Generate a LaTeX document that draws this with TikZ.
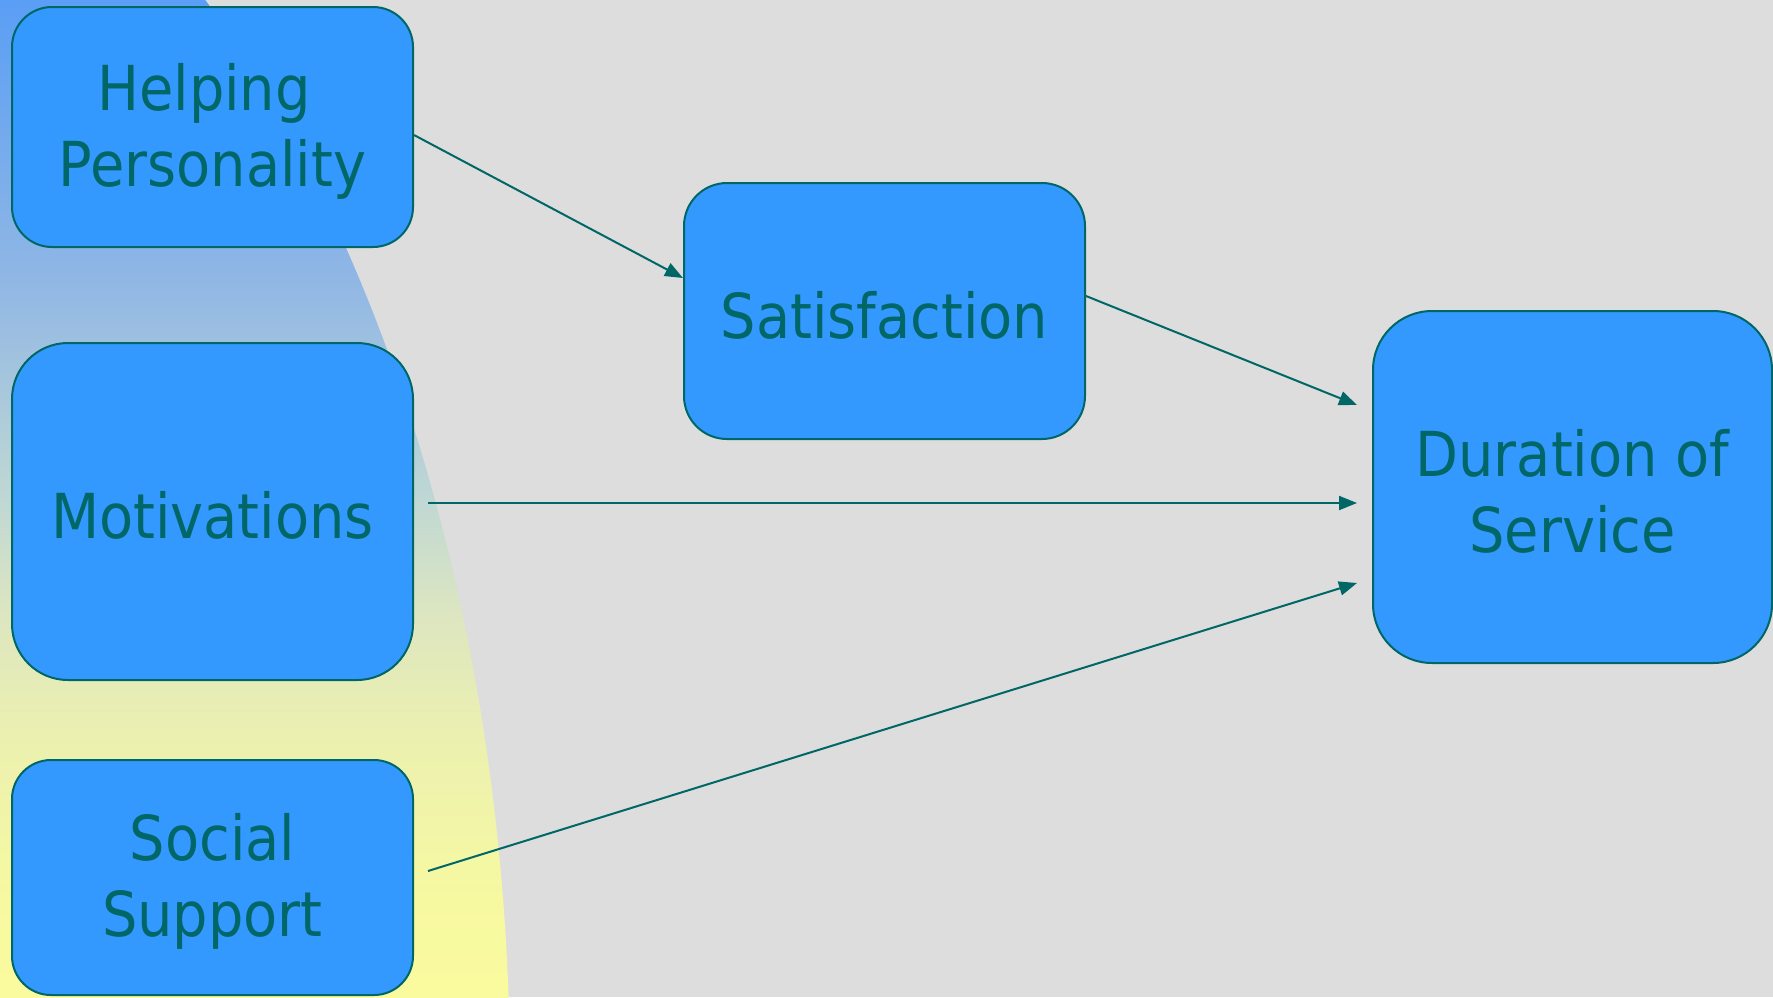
\documentclass[tikz,border=0pt]{standalone}
\usepackage{fontspec}
\setmainfont{DejaVu Sans Condensed}
\usetikzlibrary{arrows.meta}
\definecolor{bgc}{HTML}{DDDDDD}
\definecolor{boxc}{HTML}{3399FF}
\definecolor{teal6}{HTML}{006666}
\definecolor{g0}{HTML}{5A9EF5}
\definecolor{g1}{HTML}{92B8E4}
\definecolor{g2}{HTML}{C0D8D4}
\definecolor{g3}{HTML}{DDE6C0}
\definecolor{g4}{HTML}{EBF0B0}
\definecolor{g5}{HTML}{F7F9A0}
\definecolor{g6}{HTML}{FAFB9E}
\pgfdeclareverticalshading{leftglow}{100bp}{color(0bp)=(g6); color(25bp)=(g6);
  color(29.9bp)=(g5); color(38.2bp)=(g4); color(44.1bp)=(g3); color(49.9bp)=(g2);
  color(60.5bp)=(g1); color(75bp)=(g0); color(100bp)=(g0)}
\tikzset{
  box/.style={draw=teal6, line width=2pt, fill=boxc, inner sep=0pt},
  lbl/.style={text=teal6, align=center, inner sep=0pt, yshift=-4pt,
    font=\fontsize{62}{76}\selectfont},
  arr/.style={draw=teal6, line width=2pt, -{Triangle[length=18pt,width=14pt]}},
}
\begin{document}
\begin{tikzpicture}[x=1pt,y=-1pt]
\useasboundingbox (0,0) rectangle (1773,997);
\fill[bgc] (0,0) rectangle (1773,997);
\begin{scope}
  \clip (-328,1080) ellipse [x radius=838, y radius=1400];
  \shade[shading=leftglow] (0,0) rectangle (520,997);
\end{scope}

\node[box, minimum width=401pt, minimum height=240pt, rounded corners=40pt,
  label={[lbl]center:Helping\kern17pt\\Personality}] (hp) at (212.5,127) {};
\node[box, minimum width=401pt, minimum height=337pt, rounded corners=56pt,
  label={[lbl]center:Motivations}] (mot) at (212.5,511.5) {};
\node[box, minimum width=401pt, minimum height=235pt, rounded corners=39pt,
  label={[lbl]center:Social\\Support}] (soc) at (212.5,877.5) {};
\node[box, minimum width=401pt, minimum height=256pt, rounded corners=43pt,
  label={[lbl]center:Satisfaction}] (sat) at (884.5,311) {};
\node[box, minimum width=399pt, minimum height=352pt, rounded corners=59pt,
  label={[lbl]center:Duration of\\Service}] (dur) at (1572.5,487) {};

\coordinate (hpout) at (hp.east |- 0,135);
\coordinate (satin) at (sat.west |- 0,278);
\coordinate (satout) at (sat.east |- 0,296);
\coordinate (motout) at (428,503);
\coordinate (socout) at (428,871);
\coordinate (d1) at (1357,405);
\coordinate (d2) at (1357,503);
\coordinate (d3) at (1357,583);

\draw[arr] (hpout) -- (satin);
\draw[arr] (satout) -- (d1);
\draw[arr] (motout) -- (d2);
\draw[arr] (socout) -- (d3);
\end{tikzpicture}
\end{document}
